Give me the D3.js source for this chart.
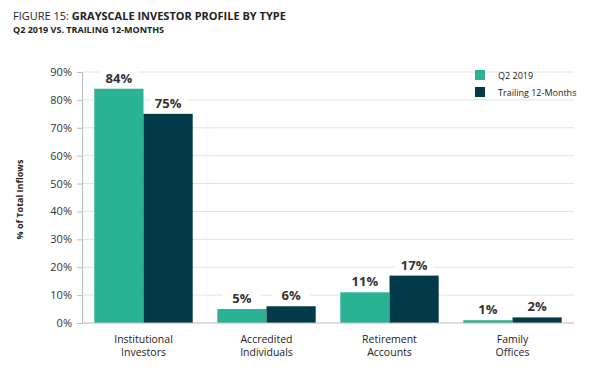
<!DOCTYPE html>
<html lang="en">
<head>
    <meta charset="UTF-8">
    <title>Grayscale Investor Profile by Type</title>
    <script src="https://d3js.org/d3.v7.min.js"></script>
    <style>
        body { margin: 0; background: #fff; }
        svg { display: block; font-family: "Open Sans", sans-serif; }
        .tick text { font-size: 11px; fill: #333; }
    </style>
</head>
<body>
    <svg id="chart"></svg>

    <script>
        const categories = [["Institutional", "Investors"], ["Accredited", "Individuals"], ["Retirement", "Accounts"], ["Family", "Offices"]];
        const seriesNames = ["Q2 2019", "Trailing 12-Months"];
        const q2Values = [84, 5, 11, 1];
        const trailingValues = [75, 6, 17, 2];
        const yTicks = [0, 10, 20, 30, 40, 50, 60, 70, 80, 90];
        const colors = ["#2bb194", "#033a49"];

        const width = 600, height = 377;
        const margin = { top: 72, right: 26, bottom: 54, left: 82 };

        const svg = d3.select("#chart")
            .attr("width", width)
            .attr("height", height);

        const x = d3.scaleBand()
            .domain(d3.range(categories.length))
            .range([margin.left, width - margin.right])
            .paddingInner(0.2)
            .paddingOuter(0.1);

        const xs = d3.scaleBand()
            .domain(d3.range(seriesNames.length))
            .range([0, x.bandwidth()]);

        const y = d3.scaleLinear()
            .domain([0, 90])
            .range([height - margin.bottom, margin.top]);

        // gridlines
        svg.append("g")
            .selectAll("line")
            .data(yTicks.slice(1))
            .join("line")
            .attr("x1", margin.left)
            .attr("x2", width - margin.right)
            .attr("y1", d => y(d))
            .attr("y2", d => y(d))
            .attr("stroke", "#e2e2e2");

        const yAxis = svg.append("g")
            .attr("transform", `translate(${margin.left},0)`)
            .call(d3.axisLeft(y).tickValues(yTicks).tickSize(5).tickPadding(5).tickFormat(d => d + "%"));
        yAxis.select(".domain").attr("stroke", "#bbb");
        yAxis.selectAll(".tick line").attr("stroke", "#bbb");
        yAxis.selectAll("text").style("font-family", "Open Sans, sans-serif");

        // bars
        const data = categories.map((c, i) => [q2Values[i], trailingValues[i]]);
        const groups = svg.append("g")
            .selectAll("g")
            .data(data)
            .join("g")
            .attr("transform", (d, i) => `translate(${x(i)},0)`);

        groups.selectAll("rect")
            .data(d => d)
            .join("rect")
            .attr("x", (d, j) => xs(j))
            .attr("width", xs.bandwidth())
            .attr("y", d => y(d))
            .attr("height", d => y(0) - y(d))
            .attr("fill", (d, j) => colors[j]);

        // value labels with white backing
        const labels = groups.selectAll("g.lbl")
            .data(d => d)
            .join("g")
            .attr("class", "lbl")
            .attr("transform", (d, j) => `translate(${xs(j) + xs.bandwidth() / 2},${y(d) - 6})`);
        labels.append("rect")
            .attr("x", -19)
            .attr("y", -13)
            .attr("width", 38)
            .attr("height", 15)
            .attr("fill", "#fff");
        labels.append("text")
            .attr("text-anchor", "middle")
            .style("font-size", "13px")
            .style("font-weight", "bold")
            .attr("fill", "#333")
            .text(d => d + "%");

        // baseline
        svg.append("line")
            .attr("x1", margin.left)
            .attr("x2", width - margin.right)
            .attr("y1", y(0))
            .attr("y2", y(0))
            .attr("stroke", "#bbb");

        // category labels, one text per line
        const catLines = categories.flatMap((c, i) => c.map((t, k) => ({ t, i, k })));
        svg.append("g")
            .selectAll("text")
            .data(catLines)
            .join("text")
            .attr("x", d => x(d.i) + x.bandwidth() / 2)
            .attr("y", d => y(0) + 20 + d.k * 13)
            .attr("text-anchor", "middle")
            .style("font-size", "10.5px")
            .attr("fill", "#222")
            .text(d => d.t);

        // y axis title
        svg.append("text")
            .attr("transform", `translate(23,${(y(0) + y(90)) / 2 + 2}) rotate(-90)`)
            .attr("text-anchor", "middle")
            .style("font-size", "9px")
            .style("font-weight", "bold")
            .attr("fill", "#222")
            .text("% of Total Inflows");

        // legend
        const legend = svg.append("g")
            .selectAll("g")
            .data(seriesNames)
            .join("g")
            .attr("transform", (d, i) => `translate(475,${75 + i * 17})`);
        legend.append("rect")
            .attr("x", 0)
            .attr("y", -5)
            .attr("width", 10)
            .attr("height", 10)
            .attr("fill", (d, i) => colors[i]);
        legend.append("text")
            .attr("x", 23)
            .attr("y", 3.5)
            .style("font-size", "9px")
            .attr("fill", "#222")
            .text(d => d);

        // titles
        const title = svg.append("text")
            .attr("x", 13)
            .attr("y", 19.5)
            .style("font-size", "11px")
            .attr("fill", "#222");
        title.append("tspan").text("FIGURE 15: ");
        title.append("tspan").style("font-weight", "bold").text("GRAYSCALE INVESTOR PROFILE BY TYPE");

        svg.append("text")
            .attr("x", 13)
            .attr("y", 33)
            .style("font-size", "9px")
            .style("font-weight", "bold")
            .attr("fill", "#222")
            .text("Q2 2019 VS. TRAILING 12-MONTHS");
    </script>
</body>
</html>
